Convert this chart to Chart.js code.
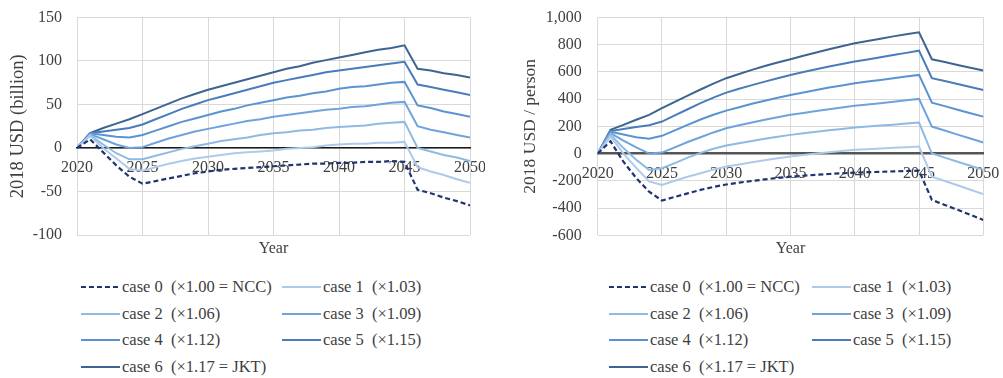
<!DOCTYPE html>
<html><head><meta charset="utf-8">
<script src="https://cdn.jsdelivr.net/npm/chart.js@4.4.1/dist/chart.umd.min.js"></script>
<style>
html,body{margin:0;padding:0;background:#fff;width:1003px;height:378px;overflow:hidden;}
#wrapL{position:absolute;left:0;top:0;width:485px;height:264px;}
#wrapR{position:absolute;left:500px;top:0;width:503px;height:264px;}
.legend{position:absolute;left:0;top:0;font-family:"Liberation Serif","Times New Roman",serif;font-size:16.5px;color:#404040;}
.item{position:absolute;display:flex;align-items:center;white-space:pre;height:20px;line-height:20px;}
.item svg{margin-right:2px;display:block;}
</style></head><body>
<div id="wrapL"><canvas id="cL" width="485" height="264"></canvas></div>
<div id="wrapR"><canvas id="cR" width="503" height="264"></canvas></div>
<div id="legL" class="legend"></div>
<div id="legR" class="legend"></div>
<script>
const years = [2020,2021,2022,2023,2024,2025,2026,2027,2028,2029,2030,2031,2032,2033,2034,2035,2036,2037,2038,2039,2040,2041,2042,2043,2044,2045,2046,2047,2048,2049,2050];
const caseLabels = ["case 0  (\u00d71.00 = NCC)","case 1  (\u00d71.03)","case 2  (\u00d71.06)","case 3  (\u00d71.09)","case 4  (\u00d71.12)","case 5  (\u00d71.15)","case 6  (\u00d71.17 = JKT)"];
const caseColors = ["#1f3470","#aecaeb","#8fbae3","#6ea3dc","#5a94d0","#4a7cbb","#3e6592"];

// 2018 USD (billion)
const billion0 = [0,10,-5,-20,-33,-41,-38,-35,-32,-29,-27,-25,-24,-23,-22,-21,-20,-19,-18,-18,-17,-17,-16,-16,-15,-16,-48,-52,-57,-61,-66];
const billion1 = [0,14,0,-12,-24,-26,-22,-18,-15,-12,-10,-8,-6,-5,-4,-3,-1,0,1,3,4,5,5,6,6,7,-22,-27,-31,-36,-40];
const billion2 = [0,15,4,-6,-13,-13,-9,-5,-1,2,5,8,10,12,15,17,18,20,21,23,24,25,26,28,29,30,0,-4,-8,-11,-15];
const billion3 = [0,16,10,4,0,1,6,11,15,19,22,25,28,31,33,36,38,40,42,44,45,47,48,50,52,53,25,21,18,15,12];
const billion4 = [0,17,15,13,12,15,20,25,30,34,38,42,45,49,52,55,58,60,63,65,68,70,71,73,75,76,49,46,42,39,36];
const billion5 = [0,17,19,21,23,27,33,39,45,50,55,59,63,67,71,75,78,81,84,87,89,91,93,95,97,99,73,70,67,64,61];
const billion6 = [0,17,23,28,33,39,45,51,57,62,67,71,75,79,83,87,91,94,98,101,104,107,110,113,115,118,91,89,86,84,81];

// 2018 USD / person
const person0 = [0,90,-60,-180,-280,-345,-318,-292,-267,-245,-227,-213,-201,-190,-179,-170,-163,-156,-150,-145,-140,-137,-134,-131,-128,-126,-340,-377,-413,-450,-487];
const person1 = [0,125,0,-105,-205,-230,-200,-170,-145,-118,-95,-80,-64,-49,-35,-22,-11,0,10,19,27,32,37,42,47,51,-169,-201,-233,-266,-298];
const person2 = [0,140,40,-45,-120,-108,-70,-30,5,35,59,76,92,108,123,137,149,160,171,181,191,198,205,212,220,227,0,-30,-60,-90,-120];
const person3 = [0,150,95,45,0,7,45,85,120,155,186,207,228,248,266,284,298,312,325,338,350,360,370,380,391,401,198,169,139,110,81];
const person4 = [0,160,140,120,108,130,170,210,250,285,315,340,365,388,410,430,448,466,484,500,516,528,540,552,565,577,374,348,322,296,271];
const person5 = [0,165,180,195,208,235,280,325,370,410,447,475,502,528,553,577,598,619,639,657,675,691,707,723,739,755,553,532,510,489,467];
const person6 = [0,174,210,248,284,333,380,425,470,513,553,584,614,642,668,692,718,742,766,788,809,826,843,860,875,890,692,672,650,630,609];

const xTicks = [2020,2025,2030,2035,2040,2045,2050];
const yTicksBillion = [-100,-50,0,50,100,150];
const yTicksPerson = [-600,-400,-200,0,200,400,600,800,1000];

const FONT = '"Liberation Serif","Times New Roman",serif';
const TXT = '#404040';
const GRID = '#d9d9d9';
const noPad = s => { s.paddingLeft = 0; s.paddingRight = 0; s.paddingTop = 0; s.paddingBottom = 0; };

function makeDatasets(series) {
  return series.map((vals, i) => ({
    label: caseLabels[i],
    data: years.map((y, k) => ({x: y, y: vals[k]})),
    borderColor: caseColors[i], backgroundColor: caseColors[i],
    borderWidth: i === 0 ? 2.2 : 2, borderDash: i === 0 ? [5, 3] : [],
    pointRadius: 0, tension: 0, fill: false
  }));
}

function makeChart(id, series, yTicks, yTitle, cfg) {
  return new Chart(document.getElementById(id), {
    type: 'line',
    data: { datasets: makeDatasets(series) },
    options: {
      responsive: false, animation: false,
      layout: { padding: { top: cfg.padTop, right: cfg.padRight, left: 0, bottom: 0 } },
      plugins: { legend: { display: false }, tooltip: { enabled: false } },
      scales: {
        x: { type: 'linear', position: 'bottom', min: xTicks[0], max: xTicks[xTicks.length - 1],
          afterBuildTicks: s => { s.ticks = xTicks.map(v => ({value: v})); },
          ticks: { display: false }, grid: { color: GRID, lineWidth: 1, drawTicks: false }, border: { display: false },
          title: { display: true, text: 'Year', color: TXT, font: { family: FONT, size: 16 }, padding: { top: 0, bottom: 5.4 } },
          afterFit: s => { s.height = cfg.xHeight; noPad(s); } },
        x2: { type: 'linear', position: { y: 0 }, min: xTicks[0], max: xTicks[xTicks.length - 1],
          afterBuildTicks: s => { s.ticks = xTicks.map(v => ({value: v})); },
          ticks: { color: TXT, font: { family: FONT, size: 16 }, padding: cfg.xLabelPad, maxRotation: 0, autoSkip: false, callback: v => String(v) },
          grid: { display: false, drawTicks: false }, border: { display: true, color: cfg.zeroColor, width: cfg.zeroWidth },
          afterFit: noPad },
        y: { type: 'linear', position: 'left', min: yTicks[0], max: yTicks[yTicks.length - 1],
          afterBuildTicks: s => { s.ticks = yTicks.map(v => ({value: v})); },
          ticks: { color: TXT, font: { family: FONT, size: 16 }, padding: cfg.yPad, callback: v => v.toLocaleString('en-US') },
          grid: { color: GRID, lineWidth: 1, drawTicks: false }, border: { display: false },
          title: { display: true, text: yTitle, color: TXT, font: { family: FONT, size: cfg.titleSize }, padding: { top: cfg.titlePad, bottom: 0 } },
          afterFit: s => { s.width = cfg.yWidth; noPad(s); } }
      }
    }
  });
}

const chartL = makeChart('cL', [billion0,billion1,billion2,billion3,billion4,billion5,billion6], yTicksBillion, '2018 USD (billion)',
  { padTop: 17.5, padRight: 15, xHeight: 29, xLabelPad: 10.5, yWidth: 77, yPad: 15, titleSize: 18.5, titlePad: 7.4, zeroColor: '#1a1a1a', zeroWidth: 1.6 });
const chartR = makeChart('cR', [person0,person1,person2,person3,person4,person5,person6], yTicksPerson, '2018 USD / person',
  { padTop: 17.3, padRight: 19.7, xHeight: 28.7, xLabelPad: 11, yWidth: 97.7, yPad: 16, titleSize: 17.5, titlePad: 20, zeroColor: '#555555', zeroWidth: 2.4 });

function buildLegend(chart, el, colX, rowY) {
  chart.data.datasets.forEach((ds, i) => {
    const row = Math.floor(i / 2), col = i % 2;
    const item = document.createElement('div');
    item.className = 'item';
    item.style.left = colX[col] + 'px';
    item.style.top = (rowY[row] - 10) + 'px';
    const ns = 'http://www.w3.org/2000/svg';
    const svg = document.createElementNS(ns, 'svg');
    svg.setAttribute('width', '39'); svg.setAttribute('height', '20');
    const ln = document.createElementNS(ns, 'line');
    ln.setAttribute('x1', '0'); ln.setAttribute('x2', '39');
    ln.setAttribute('y1', '10'); ln.setAttribute('y2', '10');
    ln.setAttribute('stroke', ds.borderColor);
    ln.setAttribute('stroke-width', ds.borderWidth);
    if (ds.borderDash.length) ln.setAttribute('stroke-dasharray', ds.borderDash.join(','));
    svg.appendChild(ln);
    item.appendChild(svg);
    const t = document.createElement('span');
    t.textContent = ds.label;
    item.appendChild(t);
    el.appendChild(item);
  });
}
buildLegend(chartL, document.getElementById('legL'), [81, 282], [287, 313.5, 340.3, 367]);
buildLegend(chartR, document.getElementById('legR'), [609, 812], [287, 313.5, 340.3, 367]);
</script>
</body></html>
